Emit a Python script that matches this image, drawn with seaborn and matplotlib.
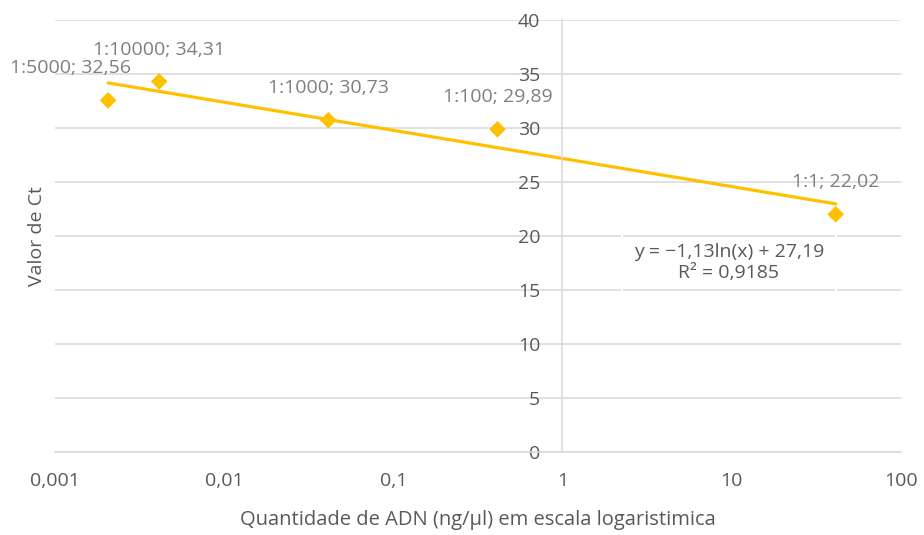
import numpy as np
import pandas as pd
import matplotlib
matplotlib.use("Agg")
import matplotlib.pyplot as plt
from matplotlib.ticker import NullLocator
import seaborn as sns

# Standard curve data: dilution, DNA quantity (ng/µl) and measured Ct
dilutions = ["1:5000", "1:10000", "1:1000", "1:100", "1:1"]
dna_conc = [0.00206, 0.00413, 0.0413, 0.413, 41.3]
ct_values = [32.56, 34.31, 30.73, 29.89, 22.02]

# Logarithmic trendline y = a*ln(x) + b
trend_slope = -1.13
trend_intercept = 27.19
r_squared = 0.9185

x_ticks = [0.001, 0.01, 0.1, 1, 10, 100]
x_tick_labels = ["0,001", "0,01", "0,1", "1", "10", "100"]
y_ticks = [0, 5, 10, 15, 20, 25, 30, 35, 40]

x_title = "Quantidade de ADN (ng/µl) em escala logaristimica"
y_title = "Valor de Ct"

GOLD = "#FFC000"
GRID = "#d9d9d9"
DARK = "#595959"
LABEL = "#7f7f7f"
FS = 14

sns.set_theme(style="white")
plt.rcParams["font.family"] = ["Open Sans", "DejaVu Sans"]

W, H = 924, 535
fig = plt.figure(figsize=(W / 100, H / 100), dpi=100)
left, right, top, bottom = 55, 900.7, 20, 452.3
ax = fig.add_axes([left / W, 1 - bottom / H, (right - left) / W, (bottom - top) / H])

df = pd.DataFrame({"dilution": dilutions, "conc": dna_conc, "ct": ct_values})

# trendline over the range of the measured points
xs = np.geomspace(min(dna_conc), max(dna_conc), 200)
trend = pd.DataFrame({"conc": xs, "ct": trend_slope * np.log(xs) + trend_intercept})
sns.lineplot(data=trend, x="conc", y="ct", color=GOLD, lw=2.3, ax=ax, zorder=2)

sns.scatterplot(data=df, x="conc", y="ct", marker="D", s=72, color=GOLD,
                edgecolor="none", linewidth=0, ax=ax, zorder=3)

ax.set_xscale("log")
ax.set_xlim(0.001, 100)
ax.set_ylim(0, 40)
ax.set_xticks(x_ticks)
ax.set_xticklabels(x_tick_labels)
ax.xaxis.set_minor_locator(NullLocator())
ax.set_yticks(y_ticks)
ax.set_yticklabels([str(v) for v in y_ticks])
ax.set_xlabel("")
ax.set_ylabel("")

ax.yaxis.grid(True, color=GRID, lw=1.1)
ax.xaxis.grid(False)
ax.set_axisbelow(True)
for s in ("top", "right"):
    ax.spines[s].set_visible(False)
ax.spines["left"].set_position(("data", 1))
ax.spines["left"].set_color(GRID)
ax.spines["left"].set_linewidth(1.1)
ax.spines["bottom"].set_color(GRID)
ax.spines["bottom"].set_linewidth(1.1)

ax.tick_params(axis="y", length=0, pad=16, labelsize=FS, labelcolor=DARK)
ax.tick_params(axis="x", length=0, pad=14, labelsize=FS, labelcolor=DARK)

# data labels "dilution; Ct"
for i, (d, x, y) in enumerate(zip(dilutions, dna_conc, ct_values)):
    txt = f"{d}; {y:.2f}".replace(".", ",")
    dx = -27 if i == 0 else 0
    ax.annotate(txt, (x, y), xytext=(dx, 23), textcoords="offset points",
                ha="center", va="center", fontsize=FS, color=LABEL, zorder=4)

eq = (f"y = {trend_slope:.2f}ln(x) + {trend_intercept:.2f}".replace(".", ",").replace("-", "−")
      + "\n" + f"R² = {r_squared:.4f}".replace(".", ","))
ax.text((729 - left) / (right - left), (bottom - 262.5) / (bottom - top), eq,
        transform=ax.transAxes, ha="center", va="center", fontsize=FS,
        color=DARK, linespacing=1.2,
        bbox=dict(boxstyle="square,pad=0.6", facecolor="none", edgecolor="white", lw=1.4))

fig.text(478 / W, 1 - 520 / H, x_title, ha="center", va="center", fontsize=14.5, color=DARK)
fig.text(37 / W, 1 - 236 / H, y_title, ha="center", va="center", rotation=90,
         fontsize=FS, color=DARK)

fig.savefig("out.png", dpi=100)
